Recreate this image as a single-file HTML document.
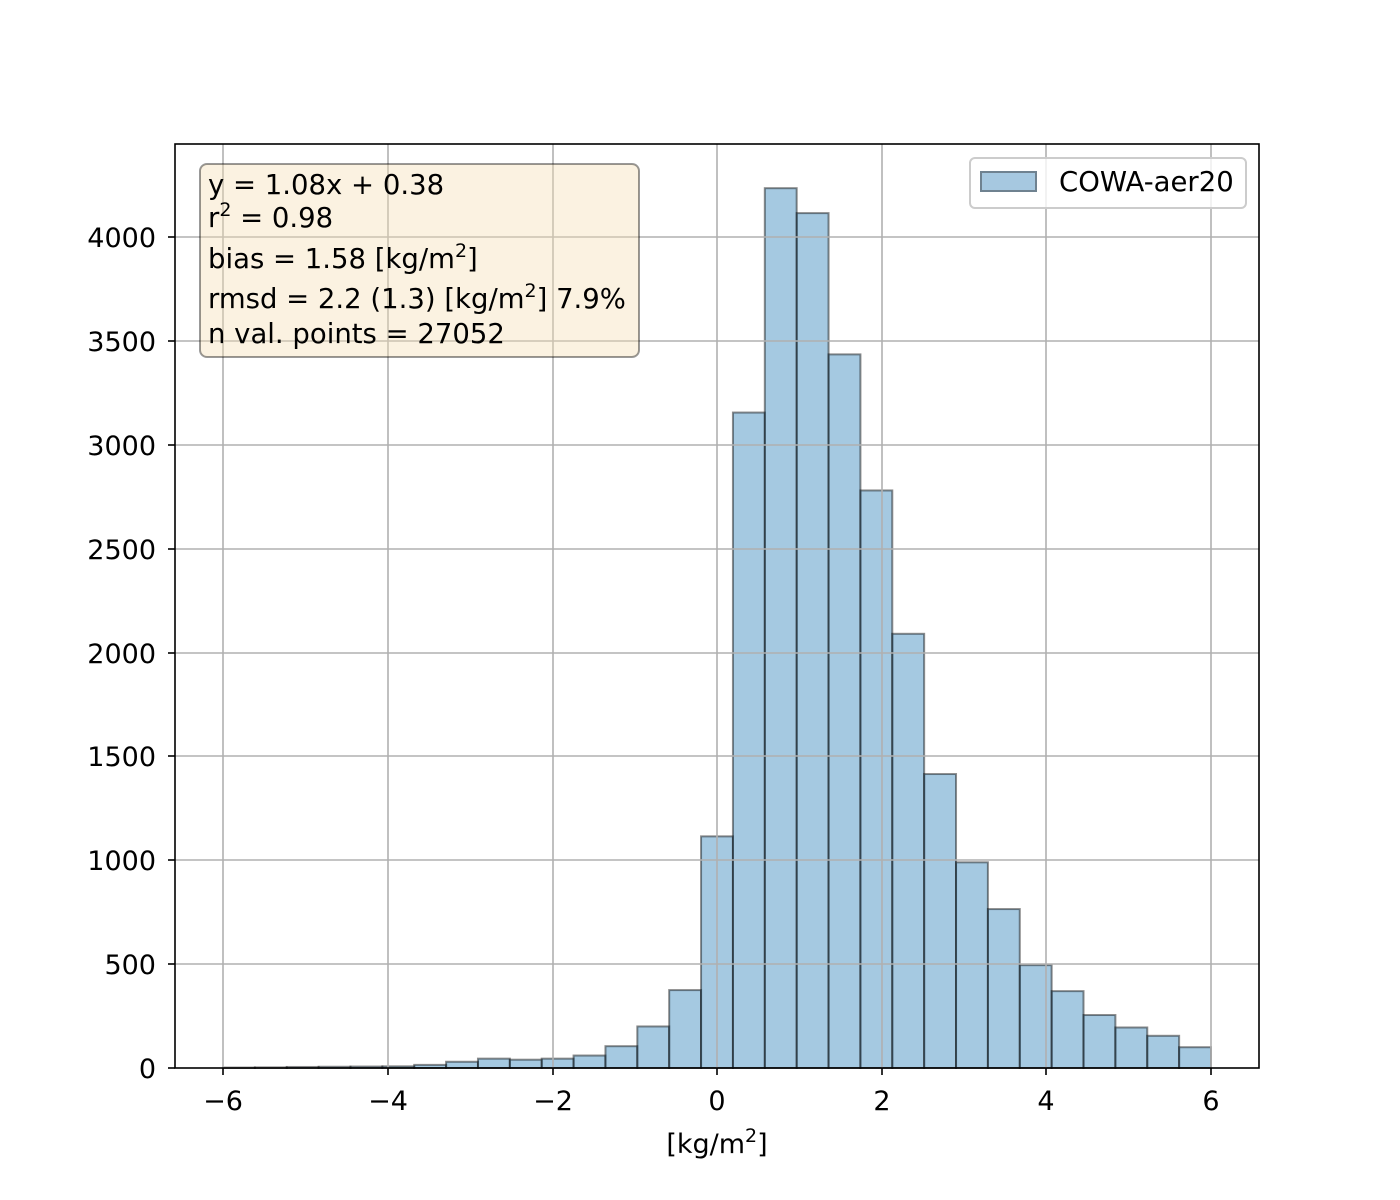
<!DOCTYPE html>
<html><head><meta charset="utf-8"><style>body{margin:0;background:#fff}svg{display:block}text{font-family:"DejaVu Sans","Liberation Sans",sans-serif;fill:#000}</style></head><body>
<svg width="1400" height="1200" viewBox="0 0 1400 1200">
<g fill="#1f77b4" fill-opacity="0.4" stroke="#000" stroke-opacity="0.45" stroke-width="2">
<rect x="223.00" y="1067.58" width="31.87" height="0.42"/>
<rect x="254.87" y="1067.38" width="31.87" height="0.62"/>
<rect x="286.74" y="1066.96" width="31.87" height="1.04"/>
<rect x="318.61" y="1066.75" width="31.87" height="1.25"/>
<rect x="350.48" y="1066.55" width="31.87" height="1.45"/>
<rect x="382.35" y="1066.34" width="31.87" height="1.66"/>
<rect x="414.23" y="1064.88" width="31.87" height="3.12"/>
<rect x="446.10" y="1061.77" width="31.87" height="6.23"/>
<rect x="477.97" y="1058.65" width="31.87" height="9.35"/>
<rect x="509.84" y="1059.69" width="31.87" height="8.31"/>
<rect x="541.71" y="1058.65" width="31.87" height="9.35"/>
<rect x="573.58" y="1055.53" width="31.87" height="12.47"/>
<rect x="605.45" y="1046.19" width="31.87" height="21.81"/>
<rect x="637.32" y="1026.45" width="31.87" height="41.55"/>
<rect x="669.19" y="990.09" width="31.87" height="77.91"/>
<rect x="701.06" y="836.36" width="31.87" height="231.64"/>
<rect x="732.94" y="412.55" width="31.87" height="655.45"/>
<rect x="764.81" y="188.18" width="31.87" height="879.82"/>
<rect x="796.68" y="213.11" width="31.87" height="854.89"/>
<rect x="828.55" y="354.38" width="31.87" height="713.62"/>
<rect x="860.42" y="490.45" width="31.87" height="577.55"/>
<rect x="892.29" y="633.80" width="31.87" height="434.20"/>
<rect x="924.16" y="774.03" width="31.87" height="293.97"/>
<rect x="956.03" y="862.33" width="31.87" height="205.67"/>
<rect x="987.90" y="909.07" width="31.87" height="158.93"/>
<rect x="1019.77" y="965.16" width="31.87" height="102.84"/>
<rect x="1051.65" y="991.13" width="31.87" height="76.87"/>
<rect x="1083.52" y="1015.02" width="31.87" height="52.98"/>
<rect x="1115.39" y="1027.49" width="31.87" height="40.51"/>
<rect x="1147.26" y="1035.80" width="31.87" height="32.20"/>
<rect x="1179.13" y="1047.22" width="31.87" height="20.78"/>
</g>
<g stroke="#b0b0b0" stroke-width="1.6">
<line x1="223" y1="144" x2="223" y2="1068"/><line x1="388" y1="144" x2="388" y2="1068"/><line x1="553" y1="144" x2="553" y2="1068"/><line x1="717" y1="144" x2="717" y2="1068"/><line x1="882" y1="144" x2="882" y2="1068"/><line x1="1046" y1="144" x2="1046" y2="1068"/><line x1="1211" y1="144" x2="1211" y2="1068"/>
<line x1="175" y1="964" x2="1259" y2="964"/><line x1="175" y1="860" x2="1259" y2="860"/><line x1="175" y1="756" x2="1259" y2="756"/><line x1="175" y1="653" x2="1259" y2="653"/><line x1="175" y1="549" x2="1259" y2="549"/><line x1="175" y1="445" x2="1259" y2="445"/><line x1="175" y1="341" x2="1259" y2="341"/><line x1="175" y1="237" x2="1259" y2="237"/>
</g>
<rect x="200" y="164" width="439" height="193" rx="7" fill="#f5deb3" fill-opacity="0.4" stroke="#000" stroke-opacity="0.4" stroke-width="2"/>
<g font-size="27.5">
<text x="208" y="194">y = 1.08x + 0.38</text>
<text x="208" y="227">r<tspan font-size="19" dy="-11">2</tspan><tspan dy="11"> = 0.98</tspan></text>
<text x="208" y="268">bias = 1.58 [kg/m<tspan font-size="19" dy="-11">2</tspan><tspan dy="11">]</tspan></text>
<text x="208" y="308">rmsd = 2.2 (1.3) [kg/m<tspan font-size="19" dy="-11">2</tspan><tspan dy="11">] 7.9%</tspan></text>
<text x="208" y="343">n val. points = 27052</text>
</g>
<rect x="970" y="158" width="276" height="50" rx="5" fill="#fff" fill-opacity="0.8" stroke="#ccc" stroke-width="2"/>
<rect x="981" y="172" width="55" height="19" fill="#a6c8e0" stroke="#6f8290" stroke-width="2"/>
<text x="1059" y="191" font-size="27.5">COWA-aer20</text>
<rect x="175" y="144" width="1084" height="924" fill="none" stroke="#000" stroke-width="1.6"/>
<g stroke="#000" stroke-width="1.6">
<line x1="223" y1="1068" x2="223" y2="1075"/><line x1="388" y1="1068" x2="388" y2="1075"/><line x1="553" y1="1068" x2="553" y2="1075"/><line x1="717" y1="1068" x2="717" y2="1075"/><line x1="882" y1="1068" x2="882" y2="1075"/><line x1="1046" y1="1068" x2="1046" y2="1075"/><line x1="1211" y1="1068" x2="1211" y2="1075"/>
<line x1="168" y1="1068" x2="175" y2="1068"/><line x1="168" y1="964" x2="175" y2="964"/><line x1="168" y1="860" x2="175" y2="860"/><line x1="168" y1="756" x2="175" y2="756"/><line x1="168" y1="653" x2="175" y2="653"/><line x1="168" y1="549" x2="175" y2="549"/><line x1="168" y1="445" x2="175" y2="445"/><line x1="168" y1="341" x2="175" y2="341"/><line x1="168" y1="237" x2="175" y2="237"/>
</g>
<g font-size="27" text-anchor="middle">
<text x="223" y="1110">−6</text><text x="388" y="1110">−4</text><text x="553" y="1110">−2</text><text x="717" y="1110">0</text><text x="882" y="1110">2</text><text x="1046" y="1110">4</text><text x="1211" y="1110">6</text>
</g>
<g font-size="27" text-anchor="end">
<text x="156" y="1078">0</text><text x="156" y="974">500</text><text x="156" y="870">1000</text><text x="156" y="766">1500</text><text x="156" y="663">2000</text><text x="156" y="559">2500</text><text x="156" y="455">3000</text><text x="156" y="351">3500</text><text x="156" y="247">4000</text>
</g>
<text x="717" y="1153" font-size="27" text-anchor="middle">[kg/m<tspan font-size="19" dy="-11">2</tspan><tspan dy="11">]</tspan></text>
</svg>
</body></html>
